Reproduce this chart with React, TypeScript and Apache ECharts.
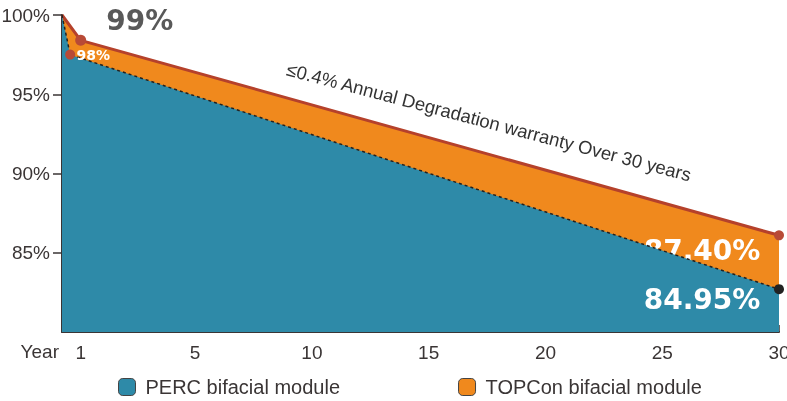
import React, { useEffect, useRef } from "react";
import * as echarts from "echarts";

// Data (x in axis units, y in %)
const perc: [number, number][] = [[-0.7, 100], [-0.35, 97.5], [30, 82.7]];
const topcon: [number, number][] = [[-0.7, 100], [0.1, 98.4], [30, 86.1]];
const xTickValues = [0.1, 5, 10, 15, 20, 25, 30];
const xTickLabels = ["1", "5", "10", "15", "20", "25", "30"];
const yTickValues = [85, 90, 95, 100];
const seriesNames = ["PERC bifacial module", "TOPCon bifacial module"];
const pointLabels = { topconStart: "99%", percStart: "98%", topconEnd: "87.40%", percEnd: "84.95%" };
const note = "≤0.4% Annual Degradation warranty Over 30 years";

const TEAL = "#2e8aa8";
const ORANGE = "#f0891d";
const RED = "#b84a36";
const DARK = "#3a3535";
const FONT = "'Liberation Sans', Arial, sans-serif";
const WIDE = "'DejaVu Sans', Verdana, sans-serif";

export default function App() {
  const ref = useRef<HTMLDivElement>(null);
  useEffect(() => {
    const chart = echarts.init(ref.current!, null, { renderer: "svg" });
    const bigLabel = (text: string, offset: number[], color: string, size: number) => ({
      show: true,
      position: "inside",
      offset,
      formatter: text,
      color,
      fontSize: size,
      fontWeight: "bold",
      fontFamily: WIDE,
    });
    chart.setOption({
      animation: false,
      grid: { left: 62, right: 8, top: 15, bottom: 69, outerBoundsMode: "none", containLabel: false },
      xAxis: {
        type: "value",
        min: -0.7,
        max: 30,
        name: "Year",
        nameLocation: "start",
        nameGap: 3,
        nameTextStyle: { color: DARK, fontSize: 19, fontFamily: FONT, verticalAlign: "top", padding: [10, 0, 0, 0] },
        splitLine: { show: false },
        axisLine: { show: true, onZero: false, lineStyle: { color: DARK, width: 2 } },
        axisTick: { show: true, inside: true, length: 7, customValues: xTickValues, lineStyle: { color: DARK, width: 1.5 } },
        axisLabel: {
          customValues: xTickValues,
          formatter: (v: number) => xTickLabels[xTickValues.indexOf(v)] ?? "",
          color: DARK,
          fontSize: 19,
          fontFamily: FONT,
          margin: 11,
        },
      },
      yAxis: {
        type: "value",
        min: 80,
        max: 100,
        interval: 5,
        splitLine: { show: false },
        axisLine: { show: true, onZero: false, lineStyle: { color: DARK, width: 2 } },
        axisTick: { show: true, length: 9, customValues: yTickValues, lineStyle: { color: DARK, width: 1.5 } },
        axisLabel: {
          customValues: yTickValues,
          formatter: (v: number) => v + "%",
          color: DARK,
          fontSize: 19,
          fontFamily: FONT,
          margin: 12,
        },
      },
      legend: {
        left: 118,
        top: 377,
        padding: 0,
        itemWidth: 17,
        itemHeight: 17,
        itemGap: 118,
        icon: "roundRect",
        textStyle: { color: DARK, fontSize: 20, fontFamily: FONT, padding: [0, 0, 0, 5] },
        data: [
          { name: seriesNames[0], itemStyle: { color: TEAL, borderColor: "#444", borderWidth: 1 } },
          { name: seriesNames[1], itemStyle: { color: ORANGE, borderColor: "#444", borderWidth: 1 } },
        ],
      },
      series: [
        {
          name: seriesNames[1],
          type: "line",
          clip: false,
          color: ORANGE,
          lineStyle: { color: "#b5412b", width: 3 },
          areaStyle: { color: ORANGE, opacity: 1 },
          symbol: "circle",
          data: [
            { value: topcon[0], symbol: "none" },
            { value: topcon[1], symbolSize: 11, itemStyle: { color: RED }, label: bigLabel(pointLabels.topconStart, [59, -20], "#595959", 28) },
            { value: topcon[2], symbolSize: 10, itemStyle: { color: RED }, label: bigLabel(pointLabels.topconEnd, [-77, 15], "#ffffff", 28) },
          ],
          z: 2,
        },
        {
          name: seriesNames[0],
          type: "line",
          clip: false,
          color: TEAL,
          lineStyle: { color: "#222", width: 1.5, type: [3, 3] },
          areaStyle: { color: TEAL, opacity: 1 },
          symbol: "circle",
          data: [
            { value: perc[0], symbol: "none" },
            { value: perc[1], symbolSize: 10, itemStyle: { color: RED }, label: bigLabel(pointLabels.percStart, [23, 0], "#ffffff", 14) },
            { value: perc[2], symbolSize: 10, itemStyle: { color: "#222" }, label: bigLabel(pointLabels.percEnd, [-77, 10], "#ffffff", 28) },
          ],
          z: 3,
        },
      ],
      graphic: [
        {
          type: "text",
          x: 489,
          y: 122,
          rotation: -0.258,
          style: {
            text: note,
            fill: "#333",
            fontSize: 18.5,
            fontFamily: FONT,
            align: "center",
            verticalAlign: "middle",
          },
          z: 10,
        },
      ],
    });
    return () => chart.dispose();
  }, []);
  return <div ref={ref} style={{ position: "fixed", left: 0, top: 0, width: 787, height: 401 }} />;
}
